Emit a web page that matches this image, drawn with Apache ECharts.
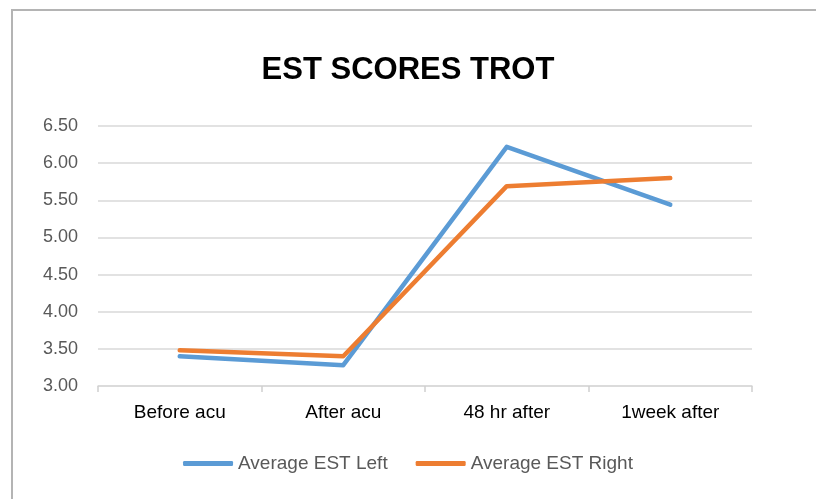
<!DOCTYPE html>
<html>
<head>
<meta charset="utf-8">
<script src="https://cdn.jsdelivr.net/npm/echarts@6/dist/echarts.min.js"></script>
<style>
  html, body { margin: 0; padding: 0; background: #fff; }
  #chart { width: 816px; height: 499px; }
</style>
</head>
<body>
<div id="chart"></div>
<script>
// categories and readings
const categories = ['Before acu', 'After acu', '48 hr after', '1week after'];
const estLeft = [3.40, 3.28, 6.22, 5.44];
const estRight = [3.48, 3.40, 5.69, 5.80];

const FONT = "'Liberation Sans', Arial, sans-serif";

const myChart = echarts.init(document.getElementById('chart'));

const option = {
  backgroundColor: '#fff',
  animation: false,
  title: {
    text: 'EST SCORES TROT',
    left: 'center',
    top: 50,
    textStyle: {
      fontFamily: FONT,
      fontWeight: 'bold',
      fontSize: 31,
      color: '#000'
    }
  },
  graphic: [{
    type: 'rect',
    shape: { x: 12, y: 10, width: 820, height: 510 },
    style: { fill: 'none', stroke: '#b4b4b4', lineWidth: 2 }
  }],
  legend: {
    bottom: 21,
    left: 'center',
    icon: 'roundRect',
    itemWidth: 50,
    itemHeight: 5,
    itemGap: 28,
    textStyle: {
      fontFamily: FONT,
      fontSize: 19,
      color: '#595959'
    },
    data: ['Average EST Left', 'Average EST Right']
  },
  grid: {
    left: 98,
    right: 64,
    top: 126,
    bottom: 113
  },
  xAxis: {
    type: 'category',
    data: categories,
    boundaryGap: true,
    axisLine: { lineStyle: { color: '#d9d9d9', width: 1.5 } },
    axisTick: { show: true, length: 6, lineStyle: { color: '#d0d0d0', width: 1.5 } },
    axisLabel: {
      margin: 17,
      fontFamily: FONT,
      fontSize: 19,
      color: '#000'
    }
  },
  yAxis: {
    type: 'value',
    min: 3,
    max: 6.5,
    interval: 0.5,
    axisLine: { show: false },
    axisTick: { show: false },
    splitLine: { lineStyle: { color: '#d9d9d9', width: 1.5 } },
    axisLabel: {
      margin: 20,
      fontFamily: FONT,
      fontSize: 18,
      color: '#595959',
      formatter: function (v) { return v.toFixed(2); }
    }
  },
  series: [
    {
      name: 'Average EST Left',
      type: 'line',
      data: estLeft,
      showSymbol: false,
      symbol: 'none',
      color: '#5b9bd5',
      lineStyle: { width: 4.5, color: '#5b9bd5', cap: 'round', join: 'round' }
    },
    {
      name: 'Average EST Right',
      type: 'line',
      data: estRight,
      showSymbol: false,
      symbol: 'none',
      color: '#ed7d31',
      lineStyle: { width: 4.5, color: '#ed7d31', cap: 'round', join: 'round' }
    }
  ]
};

myChart.setOption(option);
</script>
</body>
</html>
